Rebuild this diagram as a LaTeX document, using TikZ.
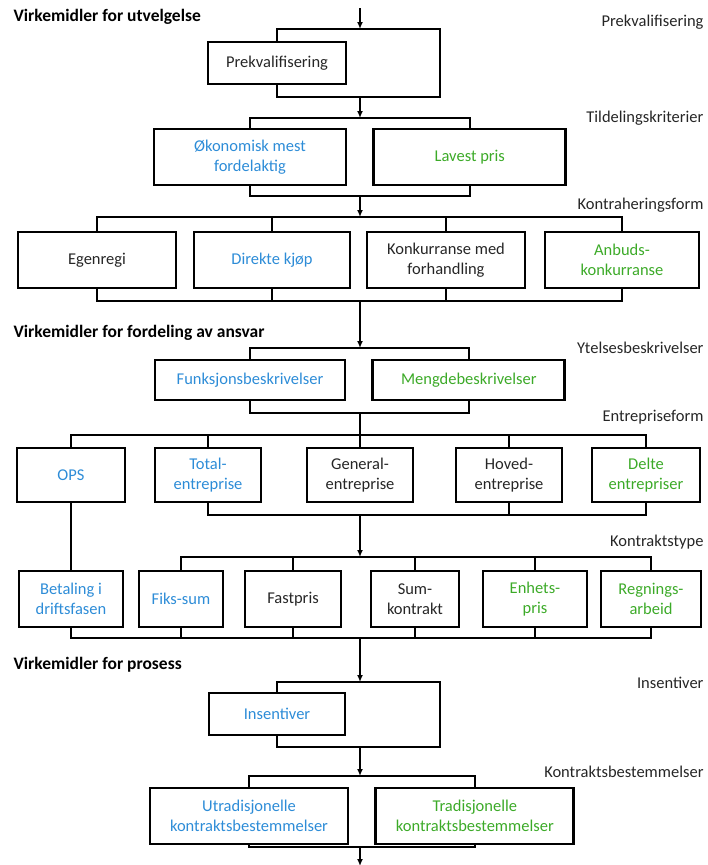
\documentclass[tikz,border=0pt]{standalone}
\usepackage{fontspec}
\setmainfont{Carlito}
\usetikzlibrary{positioning, arrows.meta}
\definecolor{blueT}{RGB}{45,140,215}
\definecolor{greenT}{RGB}{60,170,40}

\begin{document}
\begin{tikzpicture}[
    x=1pt, y=-1pt,
    every node/.style={font=\fontsize{16.5}{20}\selectfont},
    boxnode/.style={rectangle, draw=black, line width=2.8pt, align=center, inner sep=2pt, text=black!85},
    headnode/.style={anchor=west, font=\fontsize{17.5}{20}\selectfont\bfseries},
    levelnode/.style={anchor=east, text=black!85},
    link/.style={line width=1.6pt},
    arrowlink/.style={line width=1.6pt, -{Latex[length=7pt, width=6pt]}},
]
\useasboundingbox (0,0) rectangle (708,865);

% headings and level labels
\node[headnode](h1) at (10,17){Virkemidler for utvelgelse};
\node[headnode](h2) at (10,333){Virkemidler for fordeling av ansvar};
\node[headnode](h3) at (10,665){Virkemidler for prosess};
\node[levelnode](l1) at (707,22){Prekvalifisering};
\node[levelnode](l2) at (707,118){Tildelingskriterier};
\node[levelnode](l3) at (707,205){Kontraheringsform};
\node[levelnode](l4) at (707,348){Ytelsesbeskrivelser};
\node[levelnode](l5) at (707,417){Entrepriseform};
\node[levelnode](l6) at (707,542){Kontraktstype};
\node[levelnode](l7) at (707,683){Insentiver};
\node[levelnode](l8) at (707,772){Kontraktsbestemmelser};

% prekvalifisering
\coordinate (start) at (360,8);
\coordinate (pq-in) at (360,29);
\coordinate (pq-right) at (440,29);
\coordinate (pq-rb) at (440,97);
\coordinate (pq-out) at (360,97);
\node[boxnode, minimum width=138pt, minimum height=42pt](prek) at (277,63){Prekvalifisering};
\draw[arrowlink] (start) -- (pq-in);
\draw[link] (prek.north) |- (pq-right) -- (pq-rb) -| (prek.south);

% tildelingskriterier
\coordinate (tk-in) at (360,118);
\coordinate (tk-out) at (360,196);
\node[boxnode, minimum width=192pt, minimum height=56pt](okon) at (250,157){\color{blueT}Økonomisk mest\\\color{blueT}fordelaktig};
\node[boxnode, minimum width=192pt, minimum height=56pt](lavest)[right = 25pt of okon]{\color{greenT}Lavest pris};
\draw[arrowlink] (pq-out) -- (tk-in);
\draw[link] (okon.north) |- (tk-in) -| (lavest.north);
\draw[link] (okon.south) |- (tk-out) -| (lavest.south);

% kontraheringsform
\coordinate (kf-in) at (360,217);
\coordinate (kf-out) at (360,301);
\node[boxnode, minimum width=158pt, minimum height=56pt](egen) at (97,260){Egenregi};
\node[boxnode, minimum width=156pt, minimum height=56pt](direkte) at (272,260){\color{blueT}Direkte kjøp};
\node[boxnode, minimum width=158pt, minimum height=56pt](konk) at (446,260){Konkurranse med\\forhandling};
\node[boxnode, minimum width=154pt, minimum height=56pt](anbud) at (622,260){\color{greenT}Anbuds-\\\color{greenT}konkurranse};
\draw[arrowlink] (tk-out) -- (kf-in);
\draw[link] (egen.north) |- (kf-in) -| (anbud.north);
\draw[link] (direkte.north) -- (direkte.north |- kf-in);
\draw[link] (konk.north) -- (konk.north |- kf-in);
\draw[link] (egen.south) |- (kf-out) -| (anbud.south);
\draw[link] (direkte.south) -- (direkte.south |- kf-out);
\draw[link] (konk.south) -- (konk.south |- kf-out);

% ytelsesbeskrivelser
\coordinate (yb-in) at (360,348);
\coordinate (yb-out) at (360,413);
\node[boxnode, minimum width=190pt, minimum height=40pt](funk) at (250,380){\color{blueT}Funksjonsbeskrivelser};
\node[boxnode, minimum width=192pt, minimum height=40pt](meng)[right = 25pt of funk]{\color{greenT}Mengdebeskrivelser};
\draw[arrowlink] (kf-out) -- (yb-in);
\draw[link] (funk.north) |- (yb-in) -| (meng.north);
\draw[link] (funk.south) |- (yb-out) -| (meng.south);

% entrepriseform
\coordinate (ef-in) at (360,435);
\coordinate (ef-out) at (360,515);
\node[boxnode, minimum width=108pt, minimum height=54pt](ops) at (71,475){\color{blueT}OPS};
\node[boxnode, minimum width=106pt, minimum height=54pt](total) at (208,475){\color{blueT}Total-\\\color{blueT}entreprise};
\node[boxnode, minimum width=106pt, minimum height=54pt](general) at (360,475){General-\\entreprise};
\node[boxnode, minimum width=106pt, minimum height=54pt](hoved) at (509,475){Hoved-\\entreprise};
\node[boxnode, minimum width=108pt, minimum height=54pt](delte) at (646,475){\color{greenT}Delte\\\color{greenT}entrepriser};
\draw[link] (yb-out) -- (ef-in);
\draw[link] (ops.north) |- (ef-in) -| (delte.north);
\draw[link] (total.north) -- (total.north |- ef-in);
\draw[link] (general.north) -- (ef-in);
\draw[link] (hoved.north) -- (hoved.north |- ef-in);
\draw[link] (total.south) |- (ef-out) -| (delte.south);
\draw[link] (hoved.south) -- (hoved.south |- ef-out);

% kontraktstype
\coordinate (kt-in) at (360,557);
\coordinate (kt-out) at (360,638);
\node[boxnode, minimum width=104pt, minimum height=56pt](betal) at (71,599){\color{blueT}Betaling i\\\color{blueT}driftsfasen};
\node[boxnode, minimum width=84pt, minimum height=56pt](fiks) at (181,599){\color{blueT}Fiks-sum};
\node[boxnode, minimum width=96pt, minimum height=56pt](fast) at (293,599){Fastpris};
\node[boxnode, minimum width=88pt, minimum height=56pt](sumk) at (415,599){Sum-\\kontrakt};
\node[boxnode, minimum width=104pt, minimum height=56pt](enhet) at (535,599){\color{greenT}Enhets-\\\color{greenT}pris};
\node[boxnode, minimum width=100pt, minimum height=56pt](regn) at (651,599){\color{greenT}Regnings-\\\color{greenT}arbeid};
\draw[arrowlink] (ef-out) -- (kt-in);
\draw[link] (ops.south) -- (betal.north);
\draw[link] (fiks.north) |- (kt-in) -| (regn.north);
\draw[link] (fast.north) -- (fast.north |- kt-in);
\draw[link] (sumk.north) -- (sumk.north |- kt-in);
\draw[link] (enhet.north) -- (enhet.north |- kt-in);
\draw[link] (betal.south) |- (kt-out) -| (regn.south);
\draw[link] (fiks.south) -- (fiks.south |- kt-out);
\draw[link] (fast.south) -- (fast.south |- kt-out);
\draw[link] (sumk.south) -- (sumk.south |- kt-out);
\draw[link] (enhet.south) -- (enhet.south |- kt-out);

% insentiver
\coordinate (in-in) at (360,682);
\coordinate (in-right) at (440,682);
\coordinate (in-rb) at (440,747);
\coordinate (in-out) at (360,747);
\node[boxnode, minimum width=136pt, minimum height=42pt](insent) at (277,714){\color{blueT}Insentiver};
\draw[arrowlink] (kt-out) -- (in-in);
\draw[link] (insent.north) |- (in-right) -- (in-rb) -| (insent.south);

% kontraktsbestemmelser
\coordinate (kb-in) at (360,776);
\coordinate (kb-out) at (360,847);
\coordinate (end) at (360,866);
\node[boxnode, minimum width=198pt, minimum height=56pt](utrad) at (249,816){\color{blueT}Utradisjonelle\\\color{blueT}kontraktsbestemmelser};
\node[boxnode, minimum width=198pt, minimum height=56pt](trad)[right = 25pt of utrad]{\color{greenT}Tradisjonelle\\\color{greenT}kontraktsbestemmelser};
\draw[arrowlink] (in-out) -- (kb-in);
\draw[link] (utrad.north) |- (kb-in) -| (trad.north);
\draw[link] (utrad.south) |- (kb-out) -| (trad.south);
\draw[arrowlink] (kb-out) -- (end);
\end{tikzpicture}
\end{document}
